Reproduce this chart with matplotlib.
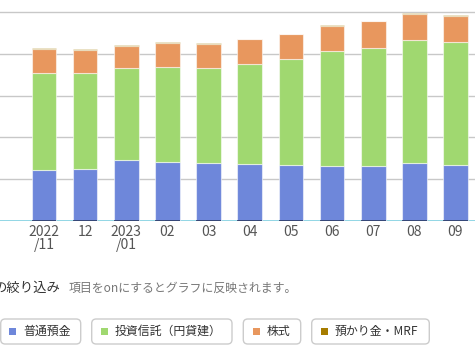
import matplotlib.pyplot as plt
from matplotlib.patches import FancyBboxPatch, Rectangle
import numpy as np

plt.rcParams['font.family'] = ['Noto Sans CJK JP', 'DejaVu Sans']

# months on the x axis
months = ['2022\n/11', '12', '2023\n/01', '02', '03', '04', '05', '06', '07', '08', '09']

# stacked values (one grid step = 1)
futsu = [1.22, 1.25, 1.46, 1.40, 1.38, 1.35, 1.33, 1.30, 1.32, 1.38, 1.34]
toshin = [2.32, 2.29, 2.19, 2.28, 2.27, 2.41, 2.55, 2.76, 2.81, 2.95, 2.94]
kabu = [0.58, 0.56, 0.55, 0.59, 0.58, 0.59, 0.59, 0.62, 0.65, 0.63, 0.62]
mrf = [0.02, 0.01, 0.02, 0.02, 0.02, 0.01, 0.01, 0.01, 0.02, 0.02, 0.03]

series_names = ['普通預金', '投資信託（円貸建）', '株式', '預かり金・MRF']
colors = ['#6e87da', '#a0d870', '#e8975e', '#a67c00']

W, H = 475, 351
fig = plt.figure(figsize=(W / 100, H / 100), dpi=100)

# axes: left edge clipped, baseline at pixel 220.7
base_px = 220.7
step_px = 41.7
ax = fig.add_axes([0, (H - base_px) / H, 1, base_px / H])
x = np.arange(len(months))
ax.set_xlim(-44 / 41.15, (W - 44) / 41.15)
ax.set_ylim(0, base_px / step_px)

bottom = np.zeros(len(months))
for vals, col in zip([futsu, toshin, kabu, mrf], colors):
    ax.bar(x, vals, width=0.6, bottom=bottom, color=col,
           edgecolor=(1, 1, 1, 0.55), linewidth=0.8, zorder=3)
    bottom = bottom + np.array(vals)

# grid
for v in range(1, 6):
    ax.axhline(v, color='#c8c8c8', linewidth=1, zorder=1)
ax.axhline(0, color='#7fd0e0', linewidth=1.2, zorder=2)
ax.hlines(np.zeros(len(months)), x - 0.3, x + 0.3, color='#2b3b66',
          linewidth=1.2, zorder=4)

for s in ax.spines.values():
    s.set_visible(False)
ax.set_yticks([])
ax.set_xticks(x)
ax.set_xticklabels(months, color='#555555', fontsize=10, linespacing=0.95)
ax.tick_params(axis='x', length=0, pad=3)
ax.set_facecolor('none')


def px(xp, yp):
    return xp / 100, (H - yp) / 100


tr = fig.dpi_scale_trans

# filter header line (left part is cut off in the screenshot)
fig.text(*px(-6, 288), 'の絞り込み', transform=tr, fontsize=9.6,
         color='#333333', va='center', ha='left')
fig.text(*px(69, 288), '項目をonにするとグラフに反映されます。', transform=tr,
         fontsize=8.6, color='#777777', va='center', ha='left')

# legend buttons
buttons = [(0.7, 80.7, 12.3, 23.3), (91.7, 232, 104.3, 115),
           (243.3, 300.7, 256.6, 266.7), (311.7, 429.3, 324.5, 335)]
for (x0, x1, sq, tx), name, col in zip(buttons, series_names, colors):
    bx, by = px(x0, 344)
    fig.patches.append(FancyBboxPatch((bx, by), (x1 - x0) / 100, 0.25,
                                      boxstyle='round,pad=0,rounding_size=0.045',
                                      transform=tr, facecolor='white',
                                      edgecolor='#cccccc', linewidth=1))
    sx, sy = px(sq - 3.4, 335.2)
    fig.patches.append(Rectangle((sx, sy), 0.068, 0.068, transform=tr,
                                 facecolor=col, edgecolor='none'))
    fig.text(*px(tx, 331.5), name, transform=tr, fontsize=8.6,
             color='#333333', va='center', ha='left')

fig.savefig('out.png', dpi=100)
